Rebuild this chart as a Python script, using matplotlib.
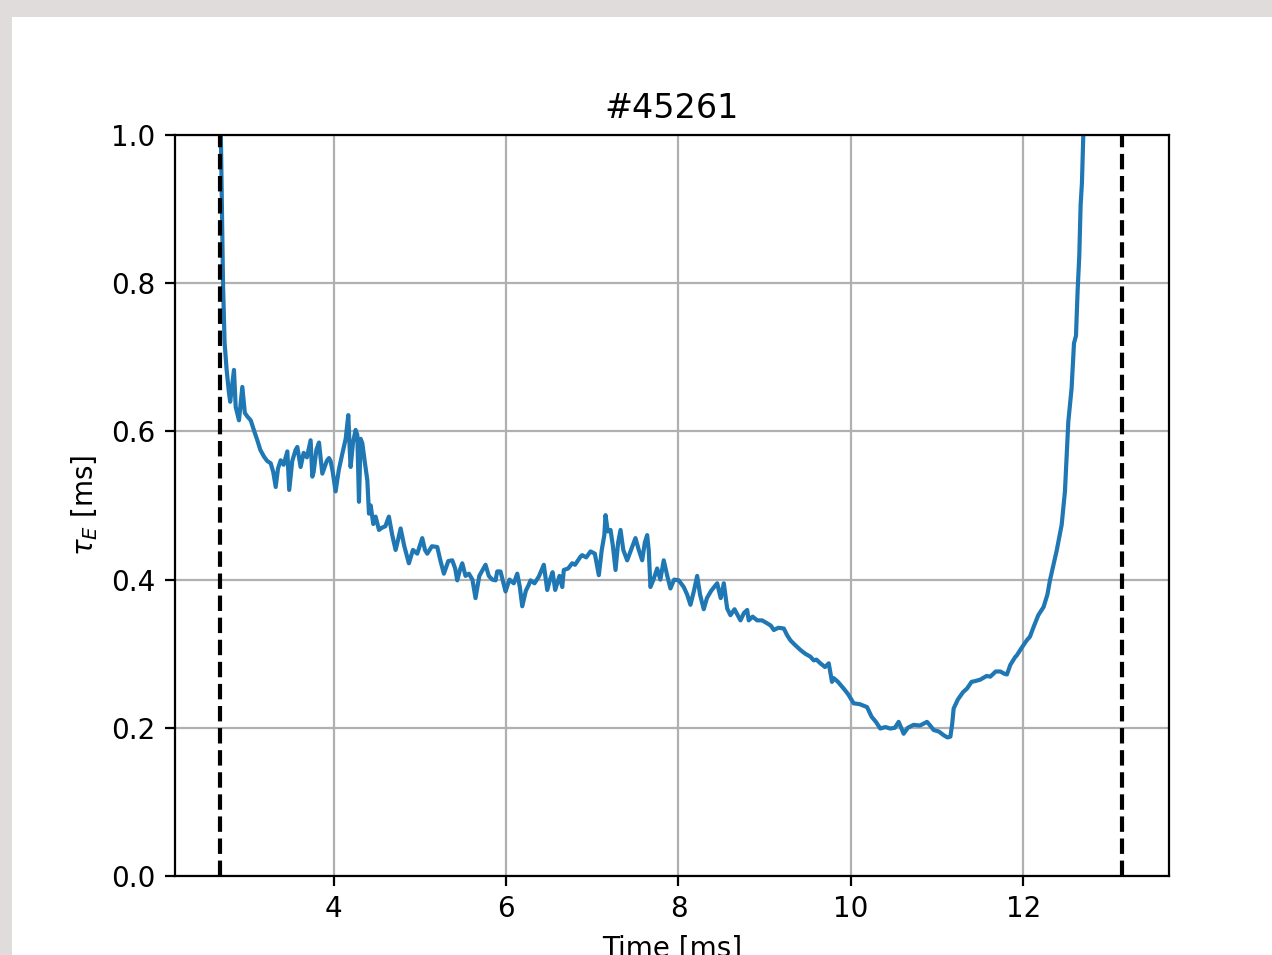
import matplotlib
matplotlib.use("Agg")
import matplotlib.pyplot as plt
from matplotlib.patches import Rectangle

# shot number and time window markers
shot = 45261
t_start = 2.678
t_end = 13.148

# energy confinement time
time_ms = [
    2.685, 2.692, 2.705, 2.717, 2.735, 2.759, 2.786, 2.800, 2.844, 2.864,
    2.902, 2.941, 2.970, 3.000, 3.038, 3.080, 3.115, 3.150, 3.192, 3.230,
    3.270, 3.300, 3.328, 3.355, 3.386, 3.420, 3.463, 3.485, 3.520, 3.559,
    3.579, 3.617, 3.652, 3.690, 3.733, 3.753, 3.768, 3.800, 3.830, 3.869,
    3.884, 3.920, 3.946, 3.965, 3.990, 4.023, 4.060, 4.101, 4.140, 4.170,
    4.185, 4.197, 4.225, 4.255, 4.275, 4.294, 4.313, 4.333, 4.360, 4.391,
    4.410, 4.430, 4.460, 4.487, 4.526, 4.560, 4.600, 4.641, 4.680, 4.719,
    4.750, 4.777, 4.820, 4.873, 4.920, 4.970, 5.028, 5.060, 5.086, 5.140,
    5.202, 5.240, 5.279, 5.330, 5.376, 5.410, 5.434, 5.470, 5.492, 5.530,
    5.569, 5.610, 5.646, 5.690, 5.762, 5.800, 5.840, 5.878, 5.898, 5.936,
    5.994, 6.040, 6.090, 6.130, 6.160, 6.188, 6.230, 6.264, 6.284, 6.330,
    6.380, 6.438, 6.478, 6.510, 6.540, 6.570, 6.620, 6.652, 6.670, 6.720,
    6.767, 6.800, 6.864, 6.883, 6.930, 6.980, 7.030, 7.076, 7.110, 7.140,
    7.154, 7.180, 7.212, 7.240, 7.270, 7.300, 7.328, 7.360, 7.405, 7.450,
    7.501, 7.540, 7.579, 7.610, 7.637, 7.655, 7.675, 7.710, 7.753, 7.790,
    7.829, 7.870, 7.907, 7.950, 8.003, 8.061, 8.100, 8.139, 8.180, 8.217,
    8.250, 8.293, 8.330, 8.380, 8.449, 8.490, 8.526, 8.565, 8.603, 8.650,
    8.719, 8.760, 8.797, 8.815, 8.860, 8.913, 8.970, 9.029, 9.070, 9.106,
    9.160, 9.222, 9.260, 9.299, 9.350, 9.415, 9.470, 9.530, 9.569, 9.600,
    9.646, 9.700, 9.743, 9.781, 9.801, 9.850, 9.916, 9.970, 10.032, 10.100,
    10.187, 10.240, 10.290, 10.341, 10.400, 10.457, 10.510, 10.554, 10.612, 10.660,
    10.728, 10.800, 10.883, 10.920, 10.960, 11.020, 11.076, 11.120, 11.154, 11.175,
    11.192, 11.240, 11.300, 11.347, 11.400, 11.440, 11.501, 11.575, 11.617, 11.680,
    11.733, 11.780, 11.810, 11.850, 11.903, 11.926, 11.981, 12.040, 12.077, 12.119,
    12.174, 12.235, 12.280, 12.309, 12.350, 12.387, 12.445, 12.483, 12.522, 12.560,
    12.588, 12.611, 12.630, 12.649, 12.665, 12.680, 12.696, 12.720, 12.740,
]
tau_e = [
    1.200, 1.000, 0.900, 0.800, 0.720, 0.683, 0.652, 0.640, 0.683, 0.633,
    0.615, 0.660, 0.625, 0.620, 0.615, 0.600, 0.588, 0.575, 0.566, 0.560,
    0.557, 0.545, 0.525, 0.550, 0.561, 0.555, 0.573, 0.521, 0.560, 0.575,
    0.579, 0.552, 0.571, 0.565, 0.588, 0.539, 0.545, 0.575, 0.585, 0.543,
    0.548, 0.560, 0.564, 0.560, 0.545, 0.519, 0.548, 0.570, 0.590, 0.622,
    0.580, 0.552, 0.585, 0.602, 0.595, 0.505, 0.590, 0.584, 0.560, 0.534,
    0.489, 0.500, 0.475, 0.485, 0.467, 0.470, 0.472, 0.485, 0.460, 0.440,
    0.455, 0.469, 0.445, 0.422, 0.440, 0.435, 0.456, 0.440, 0.435, 0.445,
    0.444, 0.425, 0.408, 0.425, 0.426, 0.415, 0.399, 0.415, 0.422, 0.405,
    0.408, 0.400, 0.375, 0.405, 0.420, 0.405, 0.400, 0.399, 0.411, 0.411,
    0.384, 0.400, 0.395, 0.408, 0.390, 0.364, 0.385, 0.393, 0.399, 0.395,
    0.404, 0.420, 0.386, 0.400, 0.410, 0.386, 0.405, 0.390, 0.413, 0.415,
    0.422, 0.420, 0.431, 0.433, 0.430, 0.438, 0.435, 0.406, 0.440, 0.460,
    0.487, 0.465, 0.467, 0.445, 0.413, 0.450, 0.467, 0.440, 0.426, 0.440,
    0.456, 0.440, 0.426, 0.450, 0.460, 0.440, 0.390, 0.400, 0.415, 0.400,
    0.426, 0.405, 0.388, 0.400, 0.399, 0.390, 0.380, 0.366, 0.385, 0.405,
    0.380, 0.360, 0.375, 0.385, 0.395, 0.375, 0.395, 0.361, 0.352, 0.360,
    0.345, 0.355, 0.359, 0.345, 0.350, 0.345, 0.345, 0.341, 0.338, 0.332,
    0.335, 0.334, 0.325, 0.318, 0.312, 0.305, 0.300, 0.296, 0.291, 0.292,
    0.287, 0.282, 0.287, 0.262, 0.267, 0.262, 0.253, 0.245, 0.233, 0.232,
    0.228, 0.215, 0.208, 0.199, 0.201, 0.199, 0.200, 0.208, 0.192, 0.200,
    0.204, 0.203, 0.208, 0.203, 0.197, 0.195, 0.190, 0.187, 0.188, 0.205,
    0.226, 0.238, 0.248, 0.253, 0.262, 0.263, 0.265, 0.270, 0.269, 0.276,
    0.276, 0.273, 0.272, 0.285, 0.295, 0.298, 0.308, 0.318, 0.323, 0.336,
    0.352, 0.363, 0.380, 0.399, 0.420, 0.439, 0.474, 0.519, 0.613, 0.658,
    0.719, 0.729, 0.790, 0.836, 0.906, 0.935, 1.000, 1.150, 1.400,
]

fig = plt.figure(figsize=(6.36, 4.775), dpi=200, facecolor='#e0dcdc')
# white page of the screenshot
fig.add_artist(Rectangle((12 / 1272, 0), 1, (955 - 17) / 955,
                         transform=fig.transFigure, facecolor='white',
                         edgecolor='none', zorder=-1))

ax = fig.add_axes([175 / 1272, 79 / 955, 994 / 1272, 741 / 955])
ax.plot(time_ms, tau_e, color='C0')
ax.axvline(t_start, color='k', linestyle='--')
ax.axvline(t_end, color='k', linestyle='--')

ax.set_xlim(2.16, 13.69)
ax.set_ylim(0, 1)
ax.set_xticks([4, 6, 8, 10, 12])
ax.grid(True)
ax.set_title(f'#{shot}')
ax.set_xlabel('Time [ms]')
ax.set_ylabel(r'$\tau_E$ [ms]')

fig.savefig('out.png', dpi=200, facecolor=fig.get_facecolor())
